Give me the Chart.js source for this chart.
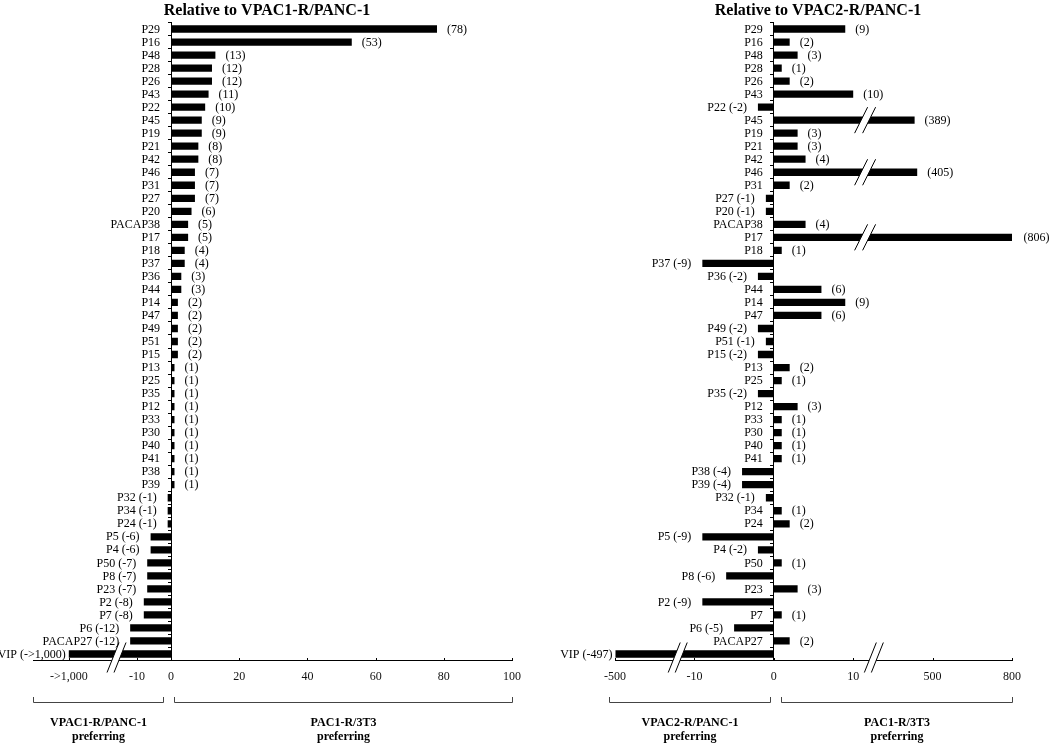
<!DOCTYPE html>
<html><head><meta charset="utf-8">
<script src="https://cdn.jsdelivr.net/npm/chart.js@4"></script>
<style>
html,body{margin:0;padding:0;background:#fff;}
#wrap{position:relative;width:1050px;height:745px;overflow:hidden;}
.box{position:absolute;top:0;width:525px;height:745px;}
</style></head><body>
<div id="wrap">
<div class="box" style="left:0"><canvas id="c1" width="525" height="745"></canvas></div>
<div class="box" style="left:525px"><canvas id="c2" width="525" height="745"></canvas></div>
</div>
<script>
// ---------- DATA ----------
const categories1 = ['P29','P16','P48','P28','P26','P43','P22','P45','P19','P21','P42','P46','P31','P27','P20','PACAP38','P17','P18','P37','P36','P44','P14','P47','P49','P51','P15','P13','P25','P35','P12','P33','P30','P40','P41','P38','P39','P32','P34','P24','P5','P4','P50','P8','P23','P2','P7','P6','PACAP27','VIP'];
const values1 = [78,53,13,12,12,11,10,9,9,8,8,7,7,7,6,5,5,4,4,3,3,2,2,2,2,2,1,1,1,1,1,1,1,1,1,1,-1,-1,-1,-6,-6,-7,-7,-7,-8,-8,-12,-12,-1000];
const tickValues1 = [-1000,-10,0,20,40,60,80,100];
const tickLabels1 = ['->1,000','-10','0','20','40','60','80','100'];

const categories2 = ['P29','P16','P48','P28','P26','P43','P22','P45','P19','P21','P42','P46','P31','P27','P20','PACAP38','P17','P18','P37','P36','P44','P14','P47','P49','P51','P15','P13','P25','P35','P12','P33','P30','P40','P41','P38','P39','P32','P34','P24','P5','P4','P50','P8','P23','P2','P7','P6','PACAP27','VIP'];
const values2 = [9,2,3,1,2,10,-2,389,3,3,4,405,2,-1,-1,4,806,1,-9,-2,6,9,6,-2,-1,-2,2,1,-2,3,1,1,1,1,-4,-4,-1,1,2,-9,-2,1,-6,3,-9,1,-5,2,-497];
const tickValues2 = [-500,-10,0,10,500,800];
const tickLabels2 = ['-500','-10','0','10','500','800'];

const titles = ['Relative to VPAC1-R/PANC-1','Relative to VPAC2-R/PANC-1'];
const groupLabels1 = [['VPAC1-R/PANC-1','preferring'],['PAC1-R/3T3','preferring']];
const groupLabels2 = [['VPAC2-R/PANC-1','preferring'],['PAC1-R/3T3','preferring']];

// ---------- broken-axis mapping (value -> axis position) ----------
const anchors1 = [[-1000,-30],[-15,-15],[100,100]];
const anchors2 = [[-500,-20],[-10,-10],[10,10],[500,20],[800,30]];
function makeMap(a){
  return v=>{
    let i=0;
    if (v<=a[0][0]) i=0;
    else if (v>=a[a.length-1][0]) i=a.length-2;
    else { while (!(v>=a[i][0] && v<=a[i+1][0])) i++; }
    const [v0,p0]=a[i],[v1,p1]=a[i+1];
    return p0+(v-v0)*(p1-p0)/(v1-v0);
  };
}

const FONT = "'Liberation Serif','Times New Roman',serif";
Chart.defaults.font.family = FONT;
Chart.defaults.color = '#000';

function slash(ctx, cx, cy, h, w, gap){
  ctx.save();
  ctx.beginPath();
  ctx.moveTo(cx-gap/2-w/2, cy+h/2);
  ctx.lineTo(cx-gap/2+w/2, cy-h/2);
  ctx.lineTo(cx+gap/2+w/2, cy-h/2);
  ctx.lineTo(cx+gap/2-w/2, cy+h/2);
  ctx.closePath();
  ctx.fillStyle='#fff'; ctx.fill();
  ctx.beginPath();
  ctx.moveTo(cx-gap/2-w/2, cy+h/2); ctx.lineTo(cx-gap/2+w/2, cy-h/2);
  ctx.moveTo(cx+gap/2-w/2, cy+h/2); ctx.lineTo(cx+gap/2+w/2, cy-h/2);
  ctx.strokeStyle='#000'; ctx.lineWidth=1; ctx.stroke();
  ctx.restore();
}

const deco = {
  id:'deco',
  afterDraw(chart, args, o){
    const ctx=chart.ctx, xs=chart.scales.x, ca=chart.chartArea;
    const meta=chart.getDatasetMeta(0);
    const zero=xs.getPixelForValue(0);
    const n=o.values.length;
    ctx.save();
    // bar breaks (positive side; last row is covered by axis break)
    meta.data.forEach((bar,i)=>{
      const v=o.values[i];
      if (v>o.breakHi && i<n-1) slash(ctx, xs.getPixelForValue(o.barBreakPos), bar.y, 26, 13, 8);
    });
    // axis breaks
    o.axisBreaks.forEach(p=>slash(ctx, xs.getPixelForValue(p), ca.bottom-3, 30, 12, 7));
    // small upward tick marks on x axis
    ctx.strokeStyle='#000'; ctx.lineWidth=1;
    xs.ticks.forEach(t=>{
      const px=Math.round(xs.getPixelForValue(t.value))+0.5;
      ctx.beginPath(); ctx.moveTo(px, ca.bottom); ctx.lineTo(px, ca.bottom-2.5); ctx.stroke();
    });
    // bar labels
    ctx.font='12px '+FONT; ctx.fillStyle='#000'; ctx.textBaseline='middle';
    meta.data.forEach((bar,i)=>{
      const v=o.values[i], cat=o.cats[i], y=bar.y+0.5;
      if (v>=0){
        ctx.textAlign='right'; ctx.fillText(cat, zero-11, y);
        ctx.textAlign='left'; ctx.fillText('('+o.fmt(v)+')', bar.x+10, y);
      } else {
        const broken = v<o.breakLo;
        ctx.textAlign='right'; ctx.fillText(cat+' ('+o.fmt(v)+')', bar.x-(broken?3:11), y);
      }
    });
    // title
    ctx.font='bold 16px '+FONT; ctx.textAlign='center';
    ctx.fillText(o.title, o.titleX, 11);
    // brackets
    const yb=702, b=o.bracket;
    const spans=[[ca.left+b[0], zero+b[1]],[zero+b[2], ca.right+b[3]]];
    ctx.strokeStyle='#444'; ctx.lineWidth=1;
    spans.forEach((s,k)=>{
      const x0=Math.round(s[0])+0.5, x1=Math.round(s[1])+0.5;
      ctx.beginPath();
      ctx.moveTo(x0, yb-5); ctx.lineTo(x0, yb+0.5); ctx.lineTo(x1, yb+0.5); ctx.lineTo(x1, yb-5);
      ctx.stroke();
      const mid=(x0+x1)/2;
      ctx.font='bold 12px '+FONT; ctx.fillStyle='#000';
      ctx.fillText(o.groups[k][0], mid, 723);
      ctx.fillText(o.groups[k][1], mid, 737);
    });
    ctx.restore();
  }
};

function build(id, cats, vals, map, tv, tl, o){
  const pos = vals.map(map);
  return new Chart(document.getElementById(id), {
    type:'bar',
    data:{labels:cats, datasets:[{data:pos, backgroundColor:'#000', borderWidth:0, barPercentage:0.56, categoryPercentage:1}]},
    options:{
      indexAxis:'y', responsive:false, animation:false, devicePixelRatio:1,
      layout:{padding:{left:o.padL, right:o.padR, top:22.5, bottom:0}},
      plugins:{legend:{display:false}, tooltip:{enabled:false}, deco:o},
      scales:{
        x:{type:'linear', min:o.min, max:o.max,
          afterBuildTicks:s=>{ s.ticks = tv.map(v=>({value:map(v)})); },
          afterFit:s=>{ s.height=84.5; s.paddingLeft=0; s.paddingRight=0; },
          ticks:{callback:(v,i)=>tl[i], autoSkip:false, maxRotation:0, padding:9, color:'#111', font:{size:12}},
          grid:{display:false, drawTicks:false},
          border:{display:true, color:'#000', width:1}},
        y:{type:'category', position:{x:0}, offset:true,
          ticks:{display:false},
          grid:{display:true, drawOnChartArea:false, drawTicks:true, tickLength:3, offset:true, color:'#000'},
          border:{display:true, color:'#000', width:1}}
      }
    },
    plugins:[deco]
  });
}

const map1 = makeMap(anchors1), map2 = makeMap(anchors2);

build('c1', categories1, values1, map1, tickValues1, tickLabels1, {
  padL:33, padR:13, min:-40.5, max:100,
  cats:categories1, values:values1, title:titles[0], titleX:267,
  fmt:v=> v<=-1000 ? '->1,000' : String(v),
  breakLo:-15, breakHi:Infinity, barBreakPos:-16, axisBreaks:[-16],
  groups:groupLabels1, bracket:[0,-8,3,0]
});

build('c2', categories2, values2, map2, tickValues2, tickLabels2, {
  padL:90, padR:38, min:-20, max:30,
  cats:categories2, values:values2, title:titles[1], titleX:293,
  fmt:v=>String(v),
  breakLo:-10, breakHi:10, barBreakPos:11.5, axisBreaks:[-12.1,12.6],
  groups:groupLabels2, bracket:[-6,-4,7,0]
});
</script>
</body></html>
